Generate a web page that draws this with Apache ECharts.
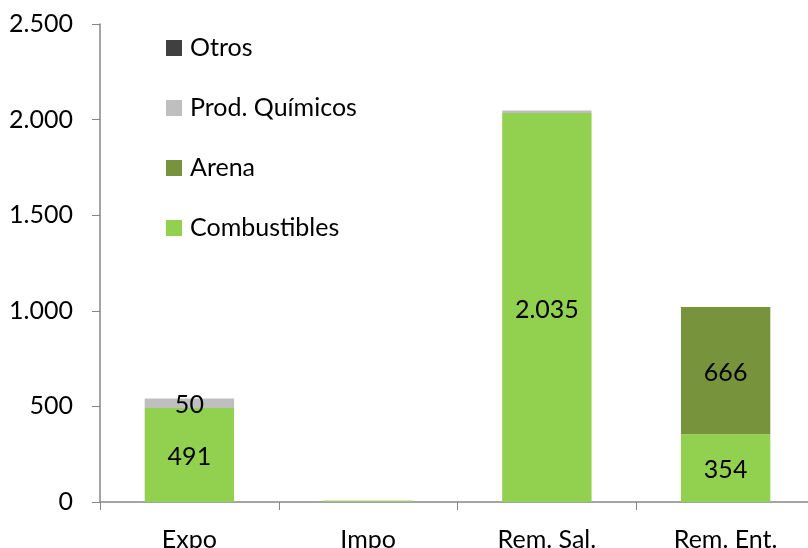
<!DOCTYPE html>
<html><head><meta charset="utf-8">
<script src="https://cdn.jsdelivr.net/npm/echarts@6/dist/echarts.min.js"></script>
<style>html,body{margin:0;padding:0;background:#fff}#c{width:808px;height:548px}</style>
</head><body><div id="c"></div>
<script>
const categories = ["Expo", "Impo", "Rem. Sal.", "Rem. Ent."];
const combustibles = [491, 5, 2035, 354];
const arena = [0, 0, 0, 666];
const quimicos = [50, 3, 12, 0];
const otros = [0, 0, 0, 0];
const yTicks = [0, 500, 1000, 1500, 2000, 2500];

const fmt = v => String(v).replace(/\B(?=(\d{3})+(?!\d))/g, ".");
const FONT = "Lato, 'Open Sans', sans-serif";
const lbl = {
  show: true, position: 'inside', offset: [0, 2], color: '#000', fontSize: 25, fontFamily: FONT,
  formatter: p => p.value >= 50 ? fmt(p.value) : ''
};
function mk(name, data, color) {
  return { name, type: 'bar', stack: 's', data, barWidth: '50%',
    itemStyle: { color }, label: lbl, emphasis: { disabled: true } };
}
const chart = echarts.init(document.getElementById('c'));
chart.setOption({
  animation: false,
  grid: { left: 100, width: 715, top: 24, bottom: 46, containLabel: false, outerBoundsMode: 'none' },
  legend: {
    orient: 'vertical', left: 166, top: 35, padding: 0, itemGap: 34,
    itemWidth: 16, itemHeight: 16, icon: 'rect',
    data: ['Otros', 'Prod. Químicos', 'Arena', 'Combustibles'],
    textStyle: { fontSize: 25, fontFamily: FONT, color: '#000', lineHeight: 26, padding: [0, 0, 0, 3] }
  },
  xAxis: {
    type: 'category', data: categories,
    axisLine: { lineStyle: { color: '#868686', width: 1.5 } },
    axisTick: { show: true, length: 8, lineStyle: { color: '#868686' } },
    axisLabel: { fontSize: 25, fontFamily: FONT, color: '#000', margin: 25 }
  },
  yAxis: {
    type: 'value', min: yTicks[0], max: yTicks[yTicks.length - 1], interval: 500,
    splitLine: { show: false },
    axisLine: { show: true, lineStyle: { color: '#868686', width: 1.5 } },
    axisTick: { show: true, length: 8, lineStyle: { color: '#868686' } },
    axisLabel: { fontSize: 25, fontFamily: FONT, color: '#000', margin: 27, formatter: v => fmt(v) }
  },
  series: [
    mk('Combustibles', combustibles, '#92D050'),
    mk('Arena', arena, '#77933C'),
    mk('Prod. Químicos', quimicos, '#BFBFBF'),
    mk('Otros', otros, '#404040')
  ]
});
</script></body></html>
